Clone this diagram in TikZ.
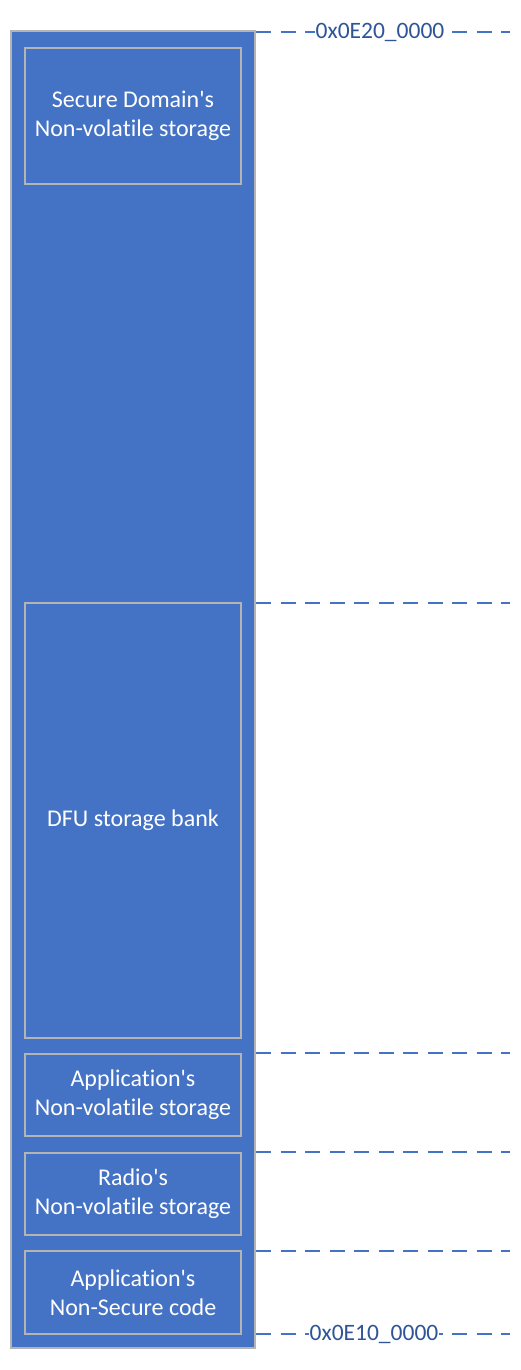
\documentclass[tikz,border=0pt]{standalone}
\usepackage{fontspec}
\setmainfont{Carlito}[Ligatures={TeX,NoCommon}]
\definecolor{fillblue}{HTML}{4472C4}
\definecolor{edgegray}{HTML}{B4B4B4}
\definecolor{labelblue}{HTML}{2F5597}
\newcommand{\ap}{\textquotesingle}
\begin{document}
\begin{tikzpicture}[x=1pt,y=-1pt,
  region/.style={draw=edgegray,line width=1.3pt,fill=fillblue,text=white,align=center,
    font=\fontsize{24}{29}\selectfont},
  boundary/.style={draw=fillblue,line width=1.6pt,dash pattern=on 15pt off 9.5pt},
  addr/.style={fill=white,text=labelblue,inner sep=1pt,font=\fontsize{23.5}{28}\selectfont}]
\useasboundingbox (0,0) rectangle (520,1370);
\fill[white] (0,0) rectangle (520,1370);
\node[draw=edgegray,line width=1.3pt,fill=fillblue,minimum width=244pt,minimum height=1317pt,inner sep=0pt] (outer) at (133,689.5) {};
\node[region,minimum width=216pt,minimum height=136pt] (sec) at (133,116) {Secure Domain\ap s\\Non-volatile storage};
\node[region,minimum width=216pt,minimum height=435pt] (dfu) at (133,820.5) {DFU storage bank};
\node[region,minimum width=216pt,minimum height=82pt] (appnv) at (133,1095) {Application\ap s\\Non-volatile storage};
\node[region,minimum width=216pt,minimum height=82pt] (radio) at (133,1194) {Radio\ap s\\Non-volatile storage};
\node[region,minimum width=216pt,minimum height=83pt] (appns) at (133,1292.5) {Application\ap s\\Non-Secure code};
\coordinate (t0) at (256,32);   \coordinate (t1) at (510,32);
\coordinate (d0) at (256,603);  \coordinate (d1) at (510,603);
\coordinate (a0) at (256,1053); \coordinate (a1) at (510,1053);
\coordinate (r0) at (256,1152); \coordinate (r1) at (510,1152);
\coordinate (n0) at (256,1251); \coordinate (n1) at (510,1251);
\coordinate (b0) at (256,1334); \coordinate (b1) at (510,1334);
\draw[boundary] (t0) -- (t1);
\draw[boundary] (d0) -- (d1);
\draw[boundary] (a0) -- (a1);
\draw[boundary] (r0) -- (r1);
\draw[boundary] (n0) -- (n1);
\draw[boundary] (b0) -- (b1);
\node[addr] (top) at (380,32) {0x0E20\_0000};
\node[addr] (bot) at (374,1334) {0x0E10\_0000};
\end{tikzpicture}
\end{document}
